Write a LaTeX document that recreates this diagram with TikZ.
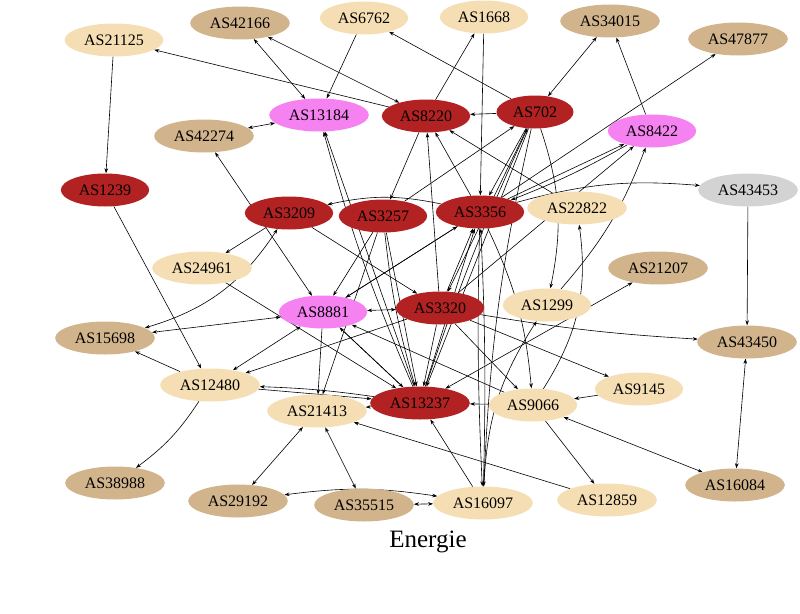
\documentclass[tikz,border=0pt]{standalone}
\usepackage{fontspec}
\setmainfont{Liberation Serif}
\usetikzlibrary{shapes.geometric,arrows.meta,backgrounds}
\definecolor{fbred}{HTML}{B22222}
\definecolor{whcol}{HTML}{F5DEB3}
\definecolor{tncol}{HTML}{D2B48C}
\definecolor{vicol}{HTML}{F582F0}
\definecolor{grcol}{HTML}{D3D3D3}
\tikzset{
  nd/.style={ellipse, minimum height=33pt, inner xsep=5pt, inner ysep=0pt, font=\fontsize{16}{16}\selectfont},
  fb/.style={nd, fill=fbred},
  wh/.style={nd, fill=whcol},
  tn/.style={nd, fill=tncol},
  vi/.style={nd, fill=vicol},
  gr/.style={nd, fill=grcol},
  ar/.style={-{Stealth[length=5pt,width=3.6pt]}, line width=0.6pt},
  bi/.style={{Stealth[length=5pt,width=3.6pt]}-{Stealth[length=5pt,width=3.6pt]}, line width=0.6pt}
}
\begin{document}
\begin{tikzpicture}[x=1pt,y=-1pt]
\useasboundingbox (0,0) rectangle (800,613);
\node[wh] (n21125) at (114,40) {AS21125};
\node[tn] (n42166) at (240,23) {AS42166};
\node[wh] (n6762) at (364,18) {AS6762};
\node[wh] (n1668) at (484,17) {AS1668};
\node[tn] (n34015) at (610,21) {AS34015};
\node[tn] (n47877) at (738,39) {AS47877};
\node[vi] (n13184) at (319,115) {AS13184};
\node[tn] (n42274) at (204,136) {AS42274};
\node[fb] (n8220) at (426,116) {AS8220};
\node[fb] (n702) at (535,112) {AS702};
\node[vi] (n8422) at (652,131) {AS8422};
\node[fb] (n1239) at (105,190) {AS1239};
\node[fb] (n3209) at (289,213) {AS3209};
\node[fb] (n3257) at (383,216) {AS3257};
\node[fb] (n3356) at (480,212) {AS3356};
\node[wh] (n22822) at (577,208) {AS22822};
\node[gr] (n43453) at (748,190) {AS43453};
\node[wh] (n24961) at (202,268) {AS24961};
\node[tn] (n21207) at (658,268) {AS21207};
\node[vi] (n8881) at (323,312) {AS8881};
\node[fb] (n3320) at (440,308) {AS3320};
\node[wh] (n1299) at (547,305) {AS1299};
\node[tn] (n15698) at (105,338) {AS15698};
\node[tn] (n43450) at (747,342) {AS43450};
\node[wh] (n12480) at (210,385) {AS12480};
\node[wh] (n9145) at (639,389) {AS9145};
\node[wh] (n21413) at (317,411) {AS21413};
\node[fb] (n13237) at (420,403) {AS13237};
\node[wh] (n9066) at (533,405) {AS9066};
\node[tn] (n38988) at (115,483) {AS38988};
\node[tn] (n29192) at (238,501) {AS29192};
\node[tn] (n35515) at (364,505) {AS35515};
\node[wh] (n16097) at (483,503) {AS16097};
\node[wh] (n12859) at (607,500) {AS12859};
\node[tn] (n16084) at (735,485) {AS16084};
\node[font=\fontsize{25}{25}\selectfont] (title) at (428,542) {Energie};

\begin{scope}[on background layer]
\draw[ar] (n21125) -- (n1239);
\draw[ar] (n8220) -- (n21125);
\draw[bi] (n42166) -- (n13184);
\draw[bi] (n42166) -- (n8220);
\draw[ar] (n6762) -- (n13184);
\draw[bi] (n42274) -- (n13184);
\draw[bi] (n42274) -- (n8881);
\draw[ar] (n1239) -- (n12480);
\draw[ar] (n13237) -- (n13184);
\draw[ar] (n13237) to[bend left=4] (n13184);
\draw[ar] (n8220) -- (n1668);
\draw[ar] (n1668) -- (n3356);
\draw[ar] (n702) -- (n8220);
\draw[bi] (n702) -- (n34015);
\draw[ar] (n702) -- (n6762);
\draw[ar] (n8422) -- (n34015);
\draw[ar] (n3356) -- (n47877);
\draw[ar] (n3356) -- (n8422);
\draw[ar] (n8422) to[bend left=4] (n3356);
\draw[ar] (n3320) -- (n8422);
\draw[ar] (n22822) -- (n8220);
\draw[ar] (n3356) -- (n8220);
\draw[ar] (n3320) -- (n8220);
\draw[ar] (n8220) -- (n3257);
\draw[ar] (n702) -- (n3356);
\draw[ar] (n3257) -- (n702);
\draw[ar] (n702) to[bend left=15] (n1299);
\draw[ar] (n702) -- (n3320);
\draw[ar] (n702) -- (n13237);
\draw[ar] (n13237) to[bend left=3] (n702);
\draw[ar] (n702) to[bend right=5] (n16097);
\draw[ar] (n3356) to[bend left=10] (n43453);
\draw[ar] (n43453) -- (n43450);
\draw[bi] (n43450) -- (n16084);
\draw[ar] (n3320) to[bend right=3] (n43450);
\draw[bi] (n9066) -- (n16084);
\draw[ar] (n9145) -- (n9066);
\draw[ar] (n3320) -- (n9145);
\draw[ar] (n9066) -- (n12859);
\draw[ar] (n12859) -- (n21413);
\draw[ar] (n9066) -- (n13237);
\draw[ar] (n9066) to[bend right=20] (n22822);
\draw[ar] (n1299) to[bend right=10] (n8422);
\draw[bi] (n13237) -- (n21207);
\draw[ar] (n16097) to[bend left=15] (n1299);
\draw[ar] (n3356) to[bend right=12] (n3209);
\draw[ar] (n3209) -- (n24961);
\draw[bi] (n15698) to[bend right=20] (n3209);
\draw[bi] (n8881) -- (n15698);
\draw[ar] (n24961) -- (n13237);
\draw[ar] (n3209) -- (n3320);
\draw[ar] (n3257) -- (n8881);
\draw[ar] (n3356) -- (n8881);
\draw[bi] (n8881) -- (n3320);
\draw[ar] (n12480) -- (n15698);
\draw[ar] (n12480) to[bend left=10] (n38988);
\draw[bi] (n12480) -- (n8881);
\draw[ar] (n3320) -- (n12480);
\draw[ar] (n12480) -- (n13237);
\draw[ar] (n13237) to[bend right=3] (n12480);
\draw[ar] (n3356) to[bend right=2] (n16097);
\draw[ar] (n16097) to[bend right=2] (n3356);
\draw[ar] (n16097) -- (n13237);
\draw[bi] (n29192) to[bend left=8] (n16097);
\draw[bi] (n35515) -- (n16097);
\draw[bi] (n21413) -- (n29192);
\draw[bi] (n21413) -- (n35515);
\draw[ar] (n13237) -- (n21413);
\draw[ar] (n8881) -- (n21413);
\draw[ar] (n3257) -- (n21413);
\draw[ar] (n3257) -- (n13237);
\draw[ar] (n3257) to[bend right=5] (n13237);
\draw[ar] (n8881) -- (n13237);
\draw[ar] (n3320) -- (n13237);
\draw[ar] (n13237) -- (n3356);
\draw[ar] (n3320) -- (n3356);
\draw[ar] (n8881) -- (n3356);
\draw[ar] (n13237) -- (n8881);
\draw[ar] (n9066) -- (n8881);
\draw[ar] (n3320) -- (n9066);
\draw[ar] (n3356) to[bend left=10] (n9066);
\end{scope}
\end{tikzpicture}
\end{document}
